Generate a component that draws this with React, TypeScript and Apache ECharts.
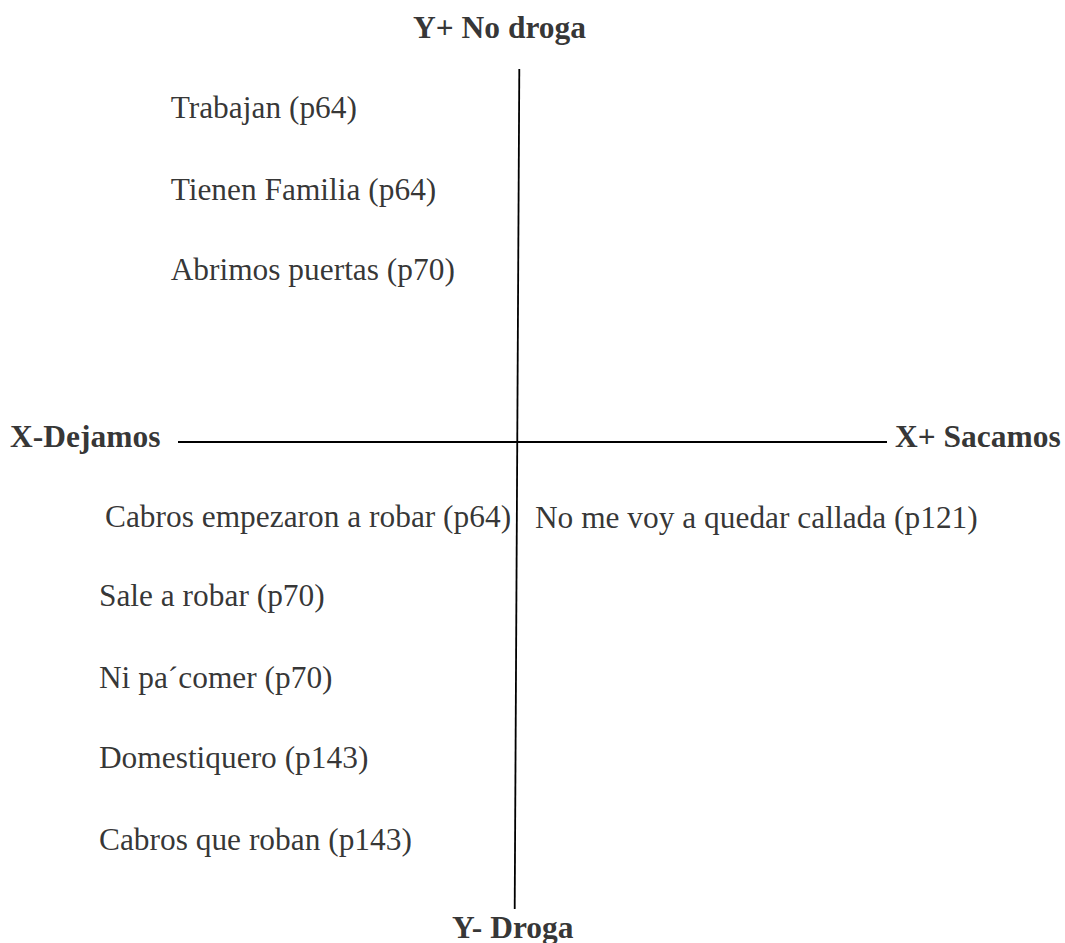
import React, { useEffect, useRef } from "react";
import * as echarts from "echarts";

// Coordinates: origin at the crossing of the two axes, y grows upward.
const horizontalAxis: [number, number][] = [
  [-339, 0],
  [370, 0],
];
const verticalAxis: [number, number][] = [
  [2.3, 373],
  [-2.3, -467],
];

const axisTitles = ["Y+ No droga", "X-Dejamos", "X+ Sacamos", "Y- Droga"];
const axisTitleX = [-104, -507, 378, -65];
const axisTitleY = [414.5, 5.5, 5.5, -485.5];

const itemLabels = [
  "Trabajan (p64)",
  "Tienen Familia (p64)",
  "Abrimos puertas (p70)",
  "Cabros empezaron a robar (p64)",
  "No me voy a quedar callada (p121)",
  "Sale a robar (p70)",
  "Ni pa´comer (p70)",
  "Domestiquero (p143)",
  "Cabros que roban (p143)",
];
const itemX = [-346.3, -346.3, -346.3, -412, 18, -418, -418, -418, -418];
const itemY = [334.5, 252.5, 172.5, -74.5, -75.5, -153.5, -235.5, -315.5, -397.5];

const FONT = "'Liberation Serif', 'Times New Roman', serif";

export default function App() {
  const ref = useRef<HTMLDivElement>(null);

  useEffect(() => {
    if (!ref.current) return;
    const chart = echarts.init(ref.current, undefined, { renderer: "svg" });

    const labelSeries = (
      names: string[],
      xs: number[],
      ys: number[],
      weight: string,
      size: number
    ) => ({
      type: "scatter",
      symbolSize: 0.1,
      itemStyle: { color: "rgba(0,0,0,0)" },
      silent: true,
      data: names.map((n, i) => ({ name: n, value: [xs[i], ys[i]] })),
      label: {
        show: true,
        position: [0, 0],
        align: "left",
        verticalAlign: "middle",
        formatter: "{b}",
        color: "#000",
        fontFamily: FONT,
        fontWeight: weight,
        fontSize: size,
      },
      z: 5,
    });

    chart.setOption({
      animation: false,
      backgroundColor: "#fff",
      grid: { left: 0, right: 0, top: 0, bottom: 0, containLabel: false },
      xAxis: { type: "value", min: -517, max: 548, show: false },
      yAxis: { type: "value", min: -501, max: 442, show: false },
      tooltip: { show: false },
      series: [
        {
          type: "line",
          data: horizontalAxis,
          symbol: "none",
          silent: true,
          lineStyle: { color: "#000", width: 2.2 },
        },
        {
          type: "line",
          data: verticalAxis,
          symbol: "none",
          silent: true,
          lineStyle: { color: "#000", width: 1.8 },
        },
        labelSeries(itemLabels, itemX, itemY, "normal", 31.4),
        labelSeries(axisTitles, axisTitleX, axisTitleY, "bold", 31.5),
      ],
    });

    return () => chart.dispose();
  }, []);

  return (
    <div
      ref={ref}
      style={{
        position: "absolute",
        left: 0,
        top: 0,
        width: 1065,
        height: 943,
        background: "#fff",
      }}
    />
  );
}
